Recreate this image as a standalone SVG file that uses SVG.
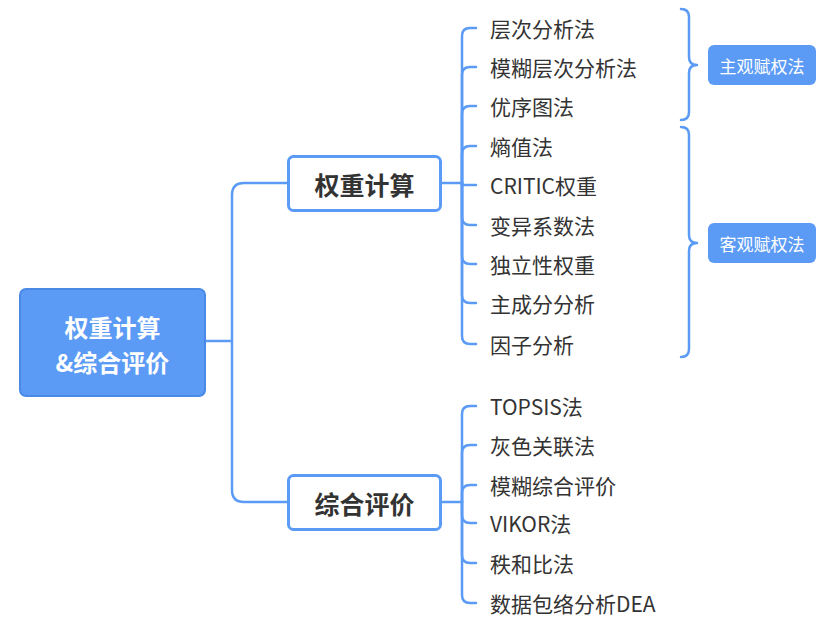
<svg xmlns="http://www.w3.org/2000/svg" width="831" height="624" viewBox="0 0 831 624">
<style>
.ln{fill:none;stroke:#5b9bf5;stroke-width:2.5;stroke-linecap:round;stroke-linejoin:round}
.t{font-family:"Noto Sans CJK SC","Liberation Sans",sans-serif;font-size:21px;fill:#333;dominant-baseline:central}
.b{font-family:"Noto Sans CJK SC","Liberation Sans",sans-serif;font-size:25px;font-weight:bold;fill:#333;text-anchor:middle;dominant-baseline:central}
.r{font-family:"Noto Sans CJK SC","Liberation Sans",sans-serif;font-size:24px;font-weight:bold;fill:#fff;text-anchor:middle;dominant-baseline:central}
.l{font-family:"Noto Sans CJK SC","Liberation Sans",sans-serif;font-size:17px;fill:#fff;text-anchor:middle;dominant-baseline:central}
.box{fill:#fff;stroke:#5b9bf5;stroke-width:3}
.fill{fill:#5b9bf5}
</style>
<rect width="831" height="624" fill="#fff"/>
<g id="connectors">
<path class="ln" d="M205,341 H232 M232,341 V195 Q232,183 244,183 H288 M232,341 V490 Q232,502 244,502 H288"/>
<path class="ln" d="M441,183 H462"/>
<path class="ln" d="M462,183 V36 Q462,28 470,28 H476"/>
<path class="ln" d="M462,183 V75 Q462,67 470,67 H476"/>
<path class="ln" d="M462,183 V114 Q462,106 470,106 H476"/>
<path class="ln" d="M462,183 V154 Q462,146 470,146 H476"/>
<path class="ln" d="M462,183 V185 H476"/>
<path class="ln" d="M462,183 V217 Q462,225 470,225 H476"/>
<path class="ln" d="M462,183 V256 Q462,264 470,264 H476"/>
<path class="ln" d="M462,183 V295 Q462,303 470,303 H476"/>
<path class="ln" d="M462,183 V336 Q462,344 470,344 H476"/>
<path class="ln" d="M441,502 H462"/>
<path class="ln" d="M462,502 V414 Q462,406 470,406 H476"/>
<path class="ln" d="M462,502 V453 Q462,445 470,445 H476"/>
<path class="ln" d="M462,502 V493 Q462,485 470,485 H476"/>
<path class="ln" d="M462,502 V515 Q462,523 470,523 H476"/>
<path class="ln" d="M462,502 V555 Q462,563 470,563 H476"/>
<path class="ln" d="M462,502 V595 Q462,603 470,603 H476"/>
<path class="ln" d="M681,9 Q689,9 689,17 V57 Q689,65 697,65 Q689,65 689,73 V112 Q689,120 681,120"/>
<path class="ln" d="M681,127 Q689,127 689,135 V235 Q689,243 697,243 Q689,243 689,251 V349 Q689,357 681,357"/>
</g>
<g id="root">
<rect x="20" y="289" width="185" height="107" rx="6" class="fill" stroke="#4a8ae6" stroke-width="2"/>
<text class="r" x="112.5" y="326">权重计算</text>
<text class="r" x="112.5" y="361">&amp;综合评价</text>
</g>
<g id="weight">
<rect x="288.5" y="156.5" width="152" height="54" rx="5" class="box"/>
<text class="b" x="364.5" y="184">权重计算</text>
</g>
<g id="eval">
<rect x="288.5" y="475.5" width="152" height="54" rx="5" class="box"/>
<text class="b" x="364.5" y="503">综合评价</text>
</g>
<g id="items-weight">
<text class="t" x="490" y="28">层次分析法</text>
<text class="t" x="490" y="67">模糊层次分析法</text>
<text class="t" x="490" y="106">优序图法</text>
<text class="t" x="490" y="146">熵值法</text>
<text class="t" x="490" y="185">CRITIC权重</text>
<text class="t" x="490" y="225">变异系数法</text>
<text class="t" x="490" y="264">独立性权重</text>
<text class="t" x="490" y="303">主成分分析</text>
<text class="t" x="490" y="344">因子分析</text>
</g>
<g id="items-eval">
<text class="t" x="490" y="406">TOPSIS法</text>
<text class="t" x="490" y="445">灰色关联法</text>
<text class="t" x="490" y="485">模糊综合评价</text>
<text class="t" x="490" y="523">VIKOR法</text>
<text class="t" x="490" y="563">秩和比法</text>
<text class="t" x="490" y="603">数据包络分析DEA</text>
</g>
<g id="subjective">
<rect x="708" y="45" width="108" height="40" rx="6" class="fill"/>
<text class="l" x="762" y="65">主观赋权法</text>
</g>
<g id="objective">
<rect x="708" y="223" width="108" height="40" rx="6" class="fill"/>
<text class="l" x="762" y="243">客观赋权法</text>
</g>
</svg>
